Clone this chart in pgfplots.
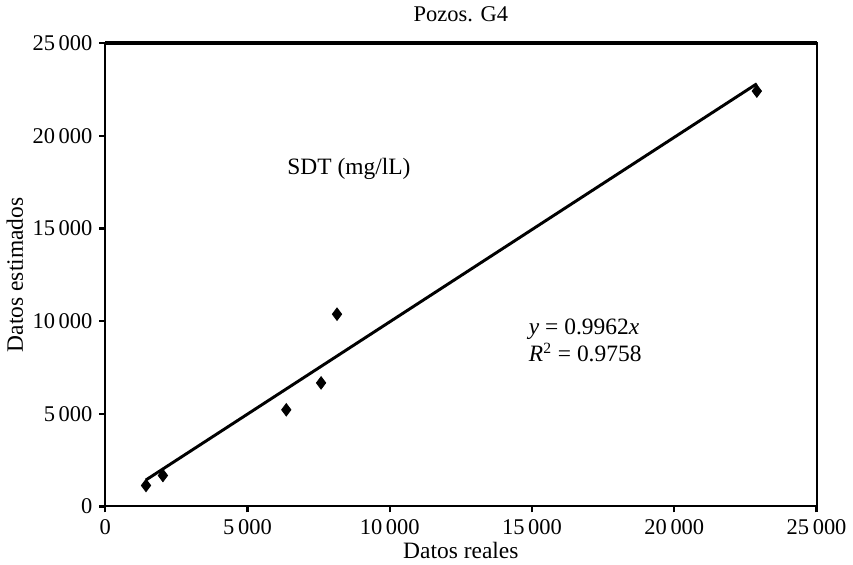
\documentclass[border=0pt]{standalone}
\usepackage{fontspec}
\setmainfont{Liberation Serif}
\usepackage{pgfplots}
\pgfplotsset{compat=1.18}

\begin{document}
\begin{tikzpicture}
\begin{axis}[
    scale only axis,
    width=364pt, height=237pt,
    xmin=0, xmax=25000, ymin=0, ymax=25000,
    xtick={0,5000,...,25000}, ytick={0,5000,...,25000},
    xtick pos=left, ytick pos=left,
    tick align=outside,
    major tick length=3pt,
    every tick/.style={black, line width=1.2pt},
    scaled ticks=false,
    /pgf/number format/.cd, 1000 sep={\,}, assume math mode=true,
    /pgfplots/.cd,
    axis line style={line width=1pt},
    tick label style={font=\fontsize{11.5}{13}\selectfont},
    label style={font=\fontsize{12}{13}\selectfont},
    title style={font=\fontsize{11.5}{13}\selectfont, yshift=1.5pt},
    title={Pozos. G4},
    xlabel={Datos reales},
    ylabel={Datos estimados},
    xlabel style={yshift=3pt},
    ylabel style={yshift=-2pt},
    clip=false,
    after end axis/.code={
        \draw[line width=2pt] (rel axis cs:0,1) -- (rel axis cs:1,1);
    },
]
% data points
\addplot[only marks, mark=diamond*, mark size=3.2pt, black] coordinates {
    (1434, 1129)
    (2028, 1667)
    (6364, 5215)
    (7587, 6667)
    (8147, 10376)
    (22902, 22419)
};
% trend line y = 0.9962x
\addplot[black, line width=1.5pt] coordinates {
    (1434, 1429)
    (22902, 22815)
};
\node[font=\fontsize{12}{13}\selectfont] at (axis cs:8566,18226) {SDT (mg/lL)};
\node[font=\fontsize{12}{14}\selectfont, anchor=west, align=left] at (axis cs:14650,8950)
    {\textit{y} = 0.9962\textit{x}\\\textit{R}\textsuperscript{2} = 0.9758};
\end{axis}
\end{tikzpicture}
\end{document}
